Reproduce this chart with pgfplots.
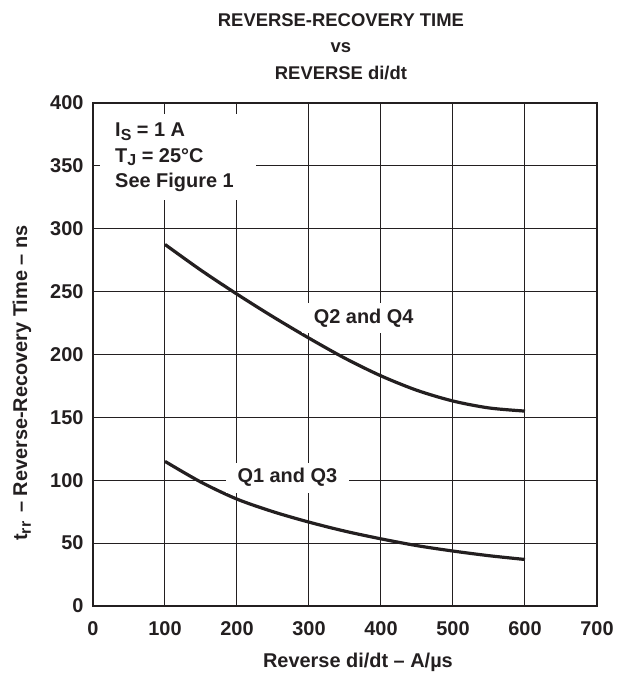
\documentclass[border=0pt]{standalone}
\usepackage{pgfplots}
\pgfplotsset{compat=1.18}
\usepackage{fontspec}
\setmainfont{Liberation Sans}
\definecolor{ink}{HTML}{231F20}
\newcommand{\fs}{\fontsize{20}{24}\selectfont\bfseries}
\newcommand{\ft}{\fontsize{18.5}{22}\selectfont\bfseries}
\newcommand{\sub}[1]{\raisebox{-0.35ex}{\fontsize{16}{18}\selectfont\bfseries #1}}
\begin{document}
\begin{tikzpicture}
\useasboundingbox (-93bp,-70bp) rectangle (534bp,606bp);
\begin{axis}[
  scale only axis, width=504bp, height=503bp,
  xmin=0, xmax=700, ymin=0, ymax=400,
  xtick={0,100,...,700}, ytick={0,50,...,400},
  grid=major, major grid style={ink, line width=1bp},
  axis line style={ink, line width=2bp},
  major tick length=0pt,
  tick label style={font=\fs, text=ink},
  /pgf/number format/assume math mode=true,
  xticklabel style={yshift=-12bp},
  yticklabel style={xshift=-6bp},
  clip=false,
]
\addplot[ink, line width=3.2bp, smooth] coordinates {
 (100,287.5) (150,267) (200,248) (250,230) (300,213) (350,197)
 (400,183) (450,171.5) (500,163) (550,157.5) (600,155)};
\addplot[ink, line width=3.2bp, smooth] coordinates {
 (100,115) (150,98.5) (200,85) (250,75) (300,66.7) (350,59.5)
 (400,53.4) (450,48) (500,43.7) (550,40) (600,37)};
% annotation box
\fill[white] (axis cs:9.7,391.5) rectangle (axis cs:226,323);
\node[anchor=base west, font=\fs, text=ink, inner sep=0pt] at (axis cs:30.6,373) {I\sub{S} = 1 A};
\node[anchor=base west, font=\fs, text=ink, inner sep=0pt] at (axis cs:30.6,353) {T\sub{J} = 25\textdegree C};
\node[anchor=base west, font=\fs, text=ink, inner sep=0pt] at (axis cs:30.6,333) {See Figure 1};
% curve labels
\node[fill=white, font=\fs, text=ink, inner xsep=12bp, inner ysep=6bp] at (axis cs:376,229) {Q2 and Q4};
\node[fill=white, font=\fs, text=ink, inner xsep=12bp, inner ysep=6bp] at (axis cs:270,102) {Q1 and Q3};
% titles
\node[anchor=base, font=\ft, text=ink, inner sep=0pt] at (axis cs:344.4,461) {REVERSE-RECOVERY TIME};
\node[anchor=base, font=\ft, text=ink, inner sep=0pt] at (axis cs:344.4,440.5) {vs};
\node[anchor=base, font=\ft, text=ink, inner sep=0pt] at (axis cs:344.4,419) {REVERSE di/dt};
% axis labels
\node[font=\fs, text=ink] at (axis cs:368,-44.5) {Reverse di/dt -- A/\textmu s};
\node[font=\fs, text=ink, rotate=90] at (axis cs:-98.6,177.3) {t\sub{rr} \,-- Reverse-Recovery Time -- ns};
\end{axis}
\end{tikzpicture}
\end{document}
